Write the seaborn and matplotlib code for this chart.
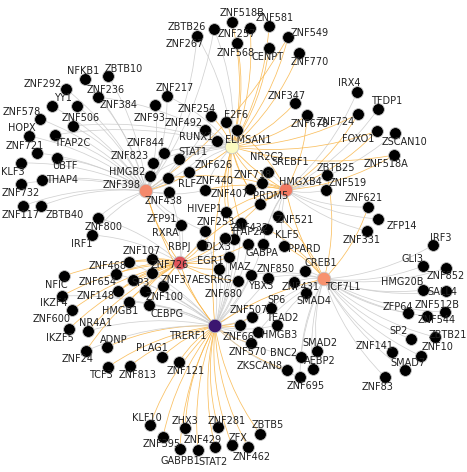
import matplotlib
matplotlib.use("Agg")
import matplotlib.pyplot as plt
import seaborn as sns
import pandas as pd
from matplotlib.patches import FancyArrowPatch

sns.set_style("white")

# hubs: code, name, x, y, colour, label x, label y
hub_codes = ["A", "B", "C", "D", "E", "F"]
hub_names = ["ZNF398", "ELMSAN1", "HMGXB4", "ZNF726", "TCF7L1", "TRERF1"]
hub_x = [146, 232, 286, 180, 324, 215]
hub_y = [191, 147, 190, 263, 279, 326]
hub_colors = ["#f4896b", "#fbfac0", "#f27a62", "#e0545a", "#f7926e", "#3b1670"]
hub_lx = [122, 248, 300, 170, 343, 188]
hub_ly = [185, 140, 182, 265, 287, 336]

# other genes: name, node x, node y, label x, label y, linked hubs
names = ["ZBTB26", "ZNF267", "ZNF518B", "ZNF581", "ZNF257", "ZNF568", "CENPT", "ZNF549", "ZNF770",
         "NFKB1", "ZBTB10", "ZNF292", "ZNF236", "YY1", "ZNF384", "ZNF578", "ZNF506", "HOPX", "TFAP2C",
         "ZNF721", "UBTF", "KLF3", "THAP4", "ZNF732", "ZNF117", "ZBTB40", "ZNF800", "IRF1",
         "ZNF217", "ZNF93", "ZNF254", "ZNF492", "RUNX1", "E2F6", "NR2C2", "ZNF844", "STAT1", "ZNF823",
         "ZNF626", "HMGB2", "RLF", "ZNF438", "ZNF440", "ZFP91", "ZNF253", "RXRA", "HIVEP1", "ZNF407",
         "ZNF718", "SREBF1", "PRDM5", "ZNF432", "ZNF521", "KLF5", "TFAP2A", "MAZ", "GABPA", "PPARD",
         "DLX3", "RBPJ", "EGR1", "ZNF850", "YBX3", "ZNF680", "ZNF431", "CREB1", "SMAD4", "ESRRG",
         "ZNF347", "ZNF678", "IRX4", "TFDP1", "ZNF724", "FOXO1", "ZSCAN10", "ZNF518A", "ZBTB25",
         "ZNF519", "ZNF621", "ZFP14", "ZNF331",
         "ZNF107", "ZNF468", "ZNF654", "SP3", "ZNF37A", "ZNF100", "ZNF148", "HMGB1", "CEBPG", "NFIC",
         "IKZF4", "ZNF600", "IKZF5", "NR4A1", "ADNP", "ZNF24", "TCF3", "ZNF813", "PLAG1", "ZNF121",
         "KLF10", "ZNF395", "ZHX3", "GABPB1", "ZNF429", "STAT2", "ZNF281", "ZFX", "ZNF462", "ZBTB5",
         "IRF3", "GLI3", "ZNF852", "HMG20B", "SALL4", "ZFP64", "ZNF512B", "ZNF544", "SP2", "ZBTB21",
         "ZNF10", "SMAD7", "ZNF141", "ZNF83", "SP6", "TEAD2", "ZNF507", "HMGB3", "ZNF66", "ZNF570",
         "BNC2", "SMAD2", "AEBP2", "ZKSCAN8", "ZNF695"]
node_x = [214, 197, 232, 269, 250, 237, 269, 288, 299,
          85, 108, 66, 98, 52, 77, 40, 73, 29, 55,
          37, 57, 21, 42, 21, 23, 41, 98, 92,
          167, 155, 211, 205, 217, 226, 237, 164, 179, 153,
          189, 150, 168, 169, 205, 181, 205, 202, 226, 250,
          262, 268, 260, 241, 278, 267, 234, 248, 263, 284,
          225, 152, 219, 268, 251, 238, 294, 305, 306, 229,
          295, 307, 357, 378, 358, 377, 395, 394, 327,
          326, 368, 378, 367,
          152, 116, 118, 133, 163, 145, 129, 129, 149, 64,
          62, 72, 69, 88, 107, 86, 108, 130, 162, 179,
          150, 163, 185, 180, 198, 215, 218, 232, 248, 260,
          433, 423, 446, 423, 446, 408, 445, 427, 411, 435,
          421, 405, 392, 385, 271, 277, 252, 258, 240, 251,
          301, 317, 313, 287, 300]
node_y = [29, 36, 22, 26, 28, 43, 48, 37, 53,
          79, 76, 89, 97, 106, 106, 119, 126, 136, 135,
          153, 158, 163, 180, 184, 206, 206, 218, 235,
          96, 105, 116, 130, 141, 122, 130, 153, 159, 163,
          172, 176, 178, 192, 190, 225, 231, 245, 212, 189,
          183, 172, 204, 223, 216, 229, 239, 244, 244, 246,
          238, 273, 269, 278, 275, 281, 282, 271, 293, 257,
          103, 115, 92, 109, 114, 131, 133, 155, 175,
          190, 207, 219, 231,
          259, 274, 291, 280, 286, 291, 262, 302, 305, 276,
          296, 310, 329, 331, 347, 351, 367, 366, 357, 362,
          425, 437, 428, 449, 450, 447, 427, 445, 447, 434,
          245, 266, 268, 290, 291, 313, 312, 316, 339, 337,
          356, 370, 352, 377, 308, 325, 317, 332, 325, 343,
          357, 351, 369, 370, 377]
label_x = [187, 185, 242, 275, 237, 236, 268, 310, 310,
           83, 124, 43, 106, 63, 119, 22, 81, 22, 72,
           25, 65, 13, 62, 21, 21, 65, 104, 82,
           175, 150, 197, 184, 196, 236, 267, 146, 193, 130,
           214, 127, 187, 164, 215, 162, 216, 165, 205, 230,
           253, 290, 271, 250, 295, 287, 248, 240, 262, 304,
           218, 179, 210, 276, 261, 224, 301, 321, 314, 215,
           287, 310, 349, 387, 336, 358, 404, 386, 336,
           348, 364, 402, 362,
           142, 108, 98, 140, 180, 165, 96, 120, 167, 56,
           54, 52, 60, 96, 114, 78, 101, 138, 152, 186,
           147, 162, 185, 180, 203, 213, 227, 238, 252, 268,
           441, 413, 446, 402, 442, 398, 437, 437, 399, 448,
           438, 408, 375, 378, 277, 282, 249, 279, 239, 248,
           284, 320, 320, 260, 306]
label_y = [27, 44, 13, 18, 34, 53, 57, 33, 62,
           71, 69, 84, 90, 98, 105, 112, 118, 128, 143,
           146, 166, 172, 180, 193, 215, 215, 227, 244,
           88, 118, 109, 123, 137, 115, 157, 143, 152, 156,
           165, 172, 184, 201, 181, 219, 222, 233, 209, 194,
           175, 162, 196, 228, 220, 235, 232, 267, 253, 249,
           247, 247, 261, 269, 286, 294, 287, 263, 301, 280,
           96, 124, 83, 101, 122, 139, 142, 164, 168,
           183, 198, 226, 240,
           251, 266, 282, 283, 280, 297, 296, 311, 314, 285,
           303, 319, 338, 323, 340, 359, 375, 375, 348, 371,
           418, 444, 421, 461, 440, 462, 421, 438, 457, 425,
           238, 259, 276, 282, 292, 307, 305, 320, 331, 335,
           347, 363, 346, 387, 300, 318, 310, 335, 337, 352,
           353, 343, 361, 366, 386]
links = ["AB", "AB", "B", "B", "B", "B", "B", "BA", "B",
         "A", "A", "A", "AB", "A", "A", "A", "AB", "A", "AB",
         "A", "A", "A", "A", "A", "A", "A", "AD", "AD",
         "AB", "A", "B", "AB", "AB", "B", "BC", "AB", "AB", "AB",
         "AB", "AB", "AC", "AD", "ABC", "AD", "ADF", "D", "BC", "BC",
         "BC", "C", "BC", "BCF", "CE", "CE", "BDF", "DF", "CF", "CE",
         "DF", "D", "DF", "EF", "EF", "DF", "E", "E", "E", "DF",
         "B", "BC", "C", "C", "BC", "BC", "C", "BC", "CE",
         "C", "CE", "C", "C",
         "D", "DF", "D", "DF", "DF", "DF", "DF", "DF", "DF", "D",
         "DF", "D", "D", "DF", "F", "DF", "F", "F", "F", "F",
         "F", "F", "F", "F", "F", "F", "F", "F", "F", "F",
         "E", "E", "E", "E", "E", "E", "E", "E", "E", "E",
         "E", "E", "E", "E", "EF", "EF", "F", "EF", "F", "F",
         "EF", "E", "E", "F", "EF"]

nodes = pd.DataFrame({"name": names, "x": node_x, "y": node_y,
                      "lx": label_x, "ly": label_y, "links": links})
hubs = pd.DataFrame({"code": hub_codes, "name": hub_names, "x": hub_x, "y": hub_y,
                     "color": hub_colors, "lx": hub_lx, "ly": hub_ly}).set_index("code")

fig, ax = plt.subplots(figsize=(4.67, 4.72), dpi=100)
fig.subplots_adjust(0, 0, 1, 1)

orange_hubs = {"B", "D", "F"}
for _, r in nodes.iterrows():
    for i, c in enumerate(r["links"]):
        h = hubs.loc[c]
        col = "#f9b84e" if (c in orange_hubs) == (i == 0) else "#cccccc"
        ax.add_patch(FancyArrowPatch((h["x"], h["y"]), (r["x"], r["y"]),
                                     connectionstyle="arc3,rad=0.12", arrowstyle="-",
                                     color=col, lw=0.55, alpha=0.9, zorder=1))
# hub to hub links
for a, b in ["AB", "AD", "BC", "CE", "DF", "EF", "AF", "BF", "CD"]:
    ax.add_patch(FancyArrowPatch((hubs.loc[a, "x"], hubs.loc[a, "y"]),
                                 (hubs.loc[b, "x"], hubs.loc[b, "y"]),
                                 connectionstyle="arc3,rad=0.1", arrowstyle="-",
                                 color="#f9b84e", lw=0.55, zorder=1))

sns.scatterplot(data=nodes, x="x", y="y", color="black", s=72, edgecolor="#c4c4c4",
                linewidth=0.6, ax=ax, zorder=3, legend=False)
sns.scatterplot(data=hubs, x="x", y="y", hue="name", palette=dict(zip(hubs["name"], hubs["color"])),
                s=95, edgecolor="#c4c4c4", linewidth=0.6, ax=ax, zorder=3, legend=False)

for _, r in nodes.iterrows():
    ax.text(r["lx"], r["ly"], r["name"], fontsize=7, color="#222222",
            ha="center", va="center", zorder=4)
for _, r in hubs.iterrows():
    ax.text(r["lx"], r["ly"], r["name"], fontsize=7, color="#222222",
            ha="center", va="center", zorder=4)

ax.set_xlim(0, 467)
ax.set_ylim(472, 0)
ax.set_axis_off()
fig.savefig("out.png", dpi=100)
